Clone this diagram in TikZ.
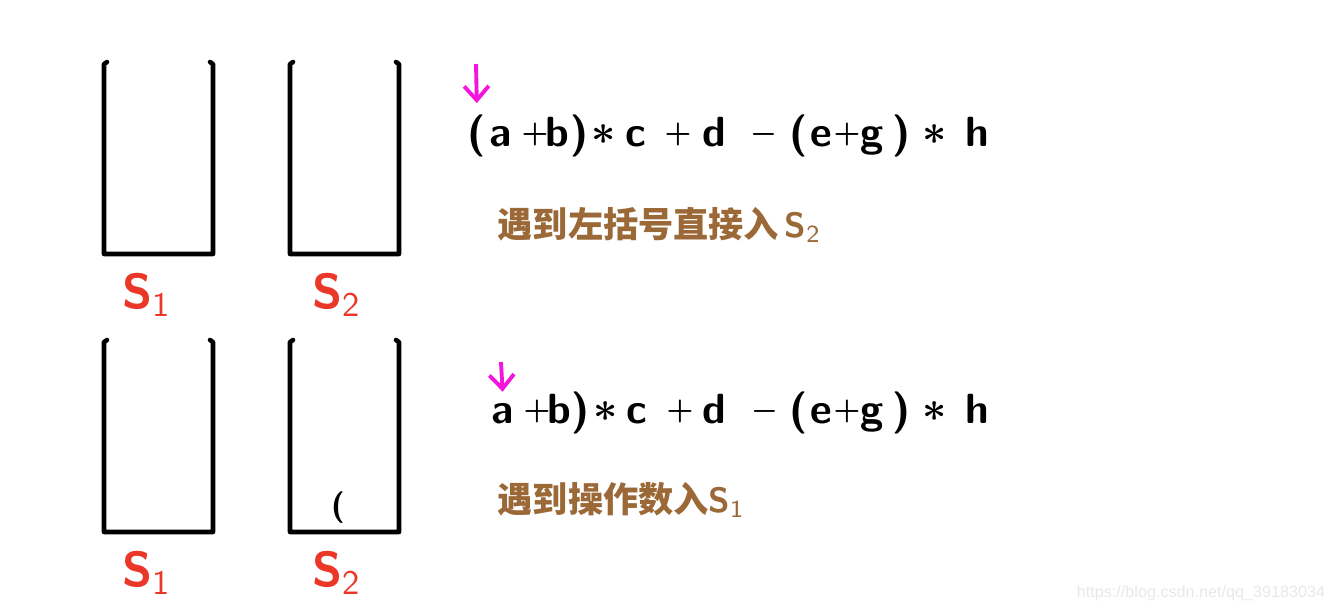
\documentclass[tikz,border=0pt]{standalone}
\usepackage{fontspec}
\newfontfamily\cjkfont{Noto Sans CJK SC}
\newfontfamily\markfont{Liberation Sans}
\usetikzlibrary{arrows.meta, positioning}
\definecolor{penMagenta}{RGB}{245,20,220}
\definecolor{penRed}{RGB}{235,55,40}
\definecolor{penBrown}{RGB}{155,105,55}
\definecolor{markGray}{RGB}{232,232,232}
\tikzset{
  stack_wall/.style={line width=1.3pt, line cap=round, line join=round},
  expr_token/.style={anchor=base, inner sep=1pt, font=\fontsize{12}{15}\selectfont\sffamily\bfseries},
  expr_op/.style={anchor=center, inner sep=1pt, font=\fontsize{8}{10}\selectfont\boldmath, yshift=3.2pt},
  expr_star/.style={anchor=center, inner sep=1pt, font=\fontsize{13}{15}\selectfont\boldmath, yshift=3.2pt},
  stack_label/.style={text=penRed, font=\fontsize{14}{17}\selectfont\sffamily\bfseries},
  note_text/.style={anchor=west, inner sep=0pt, text=penBrown, font=\fontsize{10}{12}\selectfont\sffamily\bfseries},
  pen_arrow/.style={-{Straight Barb[length=4pt, width=7pt]}, penMagenta, line width=1.1pt, shorten >=2pt},
  watermark/.style={text=markGray, font=\fontsize{4.6}{6}\selectfont\markfont}
}
% one empty stack: left x, top y (pixel units)
\newcommand{\drawStack}[2]{%
  \draw[stack_wall] (#1+3,#2) -- (#1,#2+2) -- (#1,#2+192) -- (#1+109,#2+192)
    -- (#1+109,#2+2) -- (#1+106,#2);
}

\begin{document}
\begin{tikzpicture}[x=0.01cm, y=-0.01cm]
  \useasboundingbox (0,0) rectangle (1332,611);

  % --- 1. Stacks, first step ---
  \drawStack{104}{62}
  \drawStack{290}{62}
  \node[stack_label] (s1_top) at (147,295) {S$_{\mathsf{1}}$};
  \node[stack_label] (s2_top) at (337,295) {S$_{\mathsf{2}}$};

  % --- 2. Stacks, second step ---
  \drawStack{104}{340}
  \drawStack{290}{340}
  \node[stack_label] (s1_bot) at (147,573) {S$_{\mathsf{1}}$};
  \node[stack_label] (s2_bot) at (337,573) {S$_{\mathsf{2}}$};
  \node[font=\fontsize{9}{11}\selectfont\sffamily\bfseries] (s2_item) at (338,508) {(};

  % --- 3. Expression, first step ---
  \foreach \tok/\xpos/\kind [count=\i] in {{(}/477/expr_token, {a}/501/expr_token,
      {$+$}/535/expr_op, {b}/557/expr_token, {)}/580/expr_token,
      {$\ast$}/604/expr_star, {c}/636/expr_token, {$+$}/678/expr_op,
      {d}/714/expr_token, {$-$}/764/expr_op, {(}/799/expr_token,
      {e}/821/expr_token, {$+$}/847/expr_op, {g}/872/expr_token,
      {)}/902/expr_token, {$\ast$}/935/expr_star, {h}/977/expr_token}
    \node[\kind] (top\i) at (\xpos,146) {\tok};

  % --- 4. Expression, second step (the '(' is gone) ---
  \foreach \tok/\xpos/\kind [count=\i] in {{a}/503/expr_token,
      {$+$}/537/expr_op, {b}/559/expr_token, {)}/581/expr_token,
      {$\ast$}/606/expr_star, {c}/637/expr_token, {$+$}/680/expr_op,
      {d}/714/expr_token, {$-$}/765/expr_op, {(}/799/expr_token,
      {e}/821/expr_token, {$+$}/847/expr_op, {g}/872/expr_token,
      {)}/902/expr_token, {$\ast$}/935/expr_star, {h}/977/expr_token}
    \node[\kind] (bot\i) at (\xpos,423) {\tok};

  % --- 5. Current position markers ---
  \coordinate (cursor_top) at (476,64);
  \coordinate (cursor_bot) at (501,362);
  \draw[pen_arrow] (cursor_top) -- (top1.north);
  \draw[pen_arrow] (cursor_bot) -- (bot1.north);

  % --- 6. Notes ---
  \node[note_text] (note_top) at (497,225) {{\cjkfont\bfseries 遇到左括号直接入}\,S$_{\mathsf{2}}$};
  \node[note_text] (note_bot) at (497,500) {{\cjkfont\bfseries 遇到操作数入}S$_{\mathsf{1}}$};

  \node[watermark] (mark) at (1201,593) {https://blog.csdn.net/qq\_39183034};
\end{tikzpicture}
\end{document}
